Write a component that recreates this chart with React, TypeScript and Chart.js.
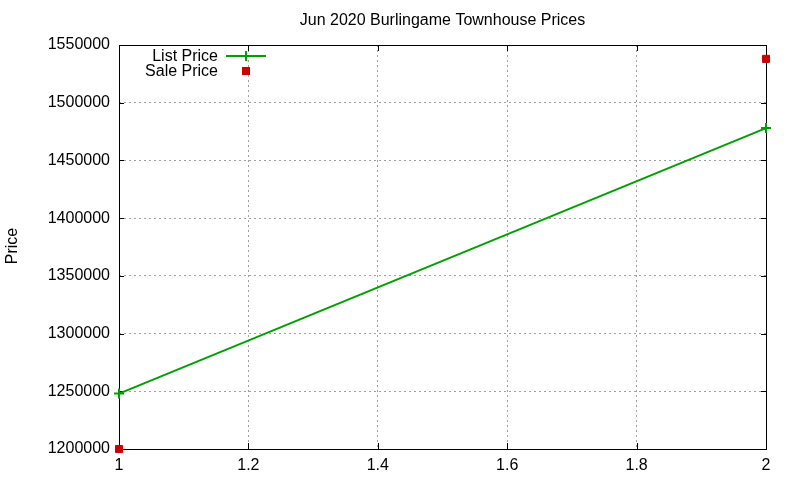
import { useEffect, useRef } from 'react'
import { Chart, registerables, type ChartConfiguration, type Plugin } from 'chart.js'

Chart.register(...registerables)

// readings for the two months on the x axis
const xValues = [1, 2]
const listPrice = [1248000, 1478000]
const salePrice = [1200000, 1538000]

const chartTitle = 'Jun 2020 Burlingame Townhouse Prices'
const yTitle = 'Price'
const seriesNames = ['List Price', 'Sale Price']

const GREEN = '#00a000'
const RED = '#cc0000'
const FONT = '"Liberation Sans", Arial, sans-serif'

// gnuplot look: border, inward mirrored ticks, title, key
const gnuplotDecor: Plugin = {
  id: 'gnuplotDecor',
  beforeDatasetsDraw(chart) {
    const { ctx, chartArea: a } = chart
    const xs = chart.scales.x
    const ys = chart.scales.y
    ctx.save()
    ctx.strokeStyle = '#000'
    ctx.lineWidth = 1
    ctx.beginPath()
    xs.ticks.forEach(t => {
      const px = Math.round(xs.getPixelForValue(t.value)) + 0.5
      ctx.moveTo(px, a.bottom)
      ctx.lineTo(px, a.bottom - 6)
      ctx.moveTo(px, a.top)
      ctx.lineTo(px, a.top + 6)
    })
    ys.ticks.forEach(t => {
      const py = Math.round(ys.getPixelForValue(t.value)) + 0.5
      ctx.moveTo(a.left, py)
      ctx.lineTo(a.left + 5, py)
      ctx.moveTo(a.right, py)
      ctx.lineTo(a.right - 5, py)
    })
    ctx.stroke()
    ctx.strokeRect(Math.round(a.left) + 0.5, Math.round(a.top) + 0.5,
      Math.round(a.right - a.left), Math.round(a.bottom - a.top))
    ctx.restore()
  },
  afterDraw(chart) {
    const { ctx, chartArea: a } = chart
    ctx.save()
    ctx.fillStyle = '#000'
    ctx.font = `16px ${FONT}`
    ctx.textAlign = 'center'
    ctx.textBaseline = 'middle'
    ctx.fillText(chartTitle, (a.left + a.right) / 2, 21)

    ctx.save()
    ctx.translate(13, 246)
    ctx.rotate(-Math.PI / 2)
    ctx.fillText(yTitle, 0, 0)
    ctx.restore()

    // key
    ctx.textAlign = 'right'
    ctx.fillText(seriesNames[0], 218, 57)
    ctx.fillText(seriesNames[1], 218, 72)
    ctx.strokeStyle = GREEN
    ctx.lineWidth = 2
    ctx.beginPath()
    ctx.moveTo(226, 56)
    ctx.lineTo(266, 56)
    ctx.moveTo(246, 51)
    ctx.lineTo(246, 61)
    ctx.stroke()
    ctx.fillStyle = RED
    ctx.fillRect(242, 67, 8, 8)
    ctx.restore()
  },
}

export default function App() {
  const chartRef = useRef<HTMLCanvasElement>(null)
  const chartInstance = useRef<Chart | null>(null)

  useEffect(() => {
    if (!chartRef.current) return
    chartInstance.current?.destroy()
    const ctx = chartRef.current.getContext('2d')
    if (!ctx) return

    Chart.defaults.font.family = FONT
    Chart.defaults.font.size = 16
    Chart.defaults.color = '#000'

    const config: ChartConfiguration<'line'> = {
      type: 'line',
      data: {
        datasets: [
          {
            label: seriesNames[0],
            data: xValues.map((x, i) => ({ x, y: listPrice[i] })),
            borderColor: GREEN,
            backgroundColor: GREEN,
            borderWidth: 2,
            pointStyle: 'cross',
            pointRadius: 5,
            pointBorderWidth: 2,
            clip: false,
          },
          {
            label: seriesNames[1],
            data: xValues.map((x, i) => ({ x, y: salePrice[i] })),
            borderColor: RED,
            backgroundColor: RED,
            showLine: false,
            pointStyle: 'rect',
            pointRadius: 5,
            pointBorderWidth: 1,
            clip: false,
          },
        ],
      },
      options: {
        responsive: false,
        animation: false,
        layout: { padding: { top: 45, right: 34, left: 0, bottom: 0 } },
        scales: {
          x: {
            type: 'linear',
            min: 1,
            max: 2,
            afterFit: (axis) => { axis.height = 31 },
            ticks: {
              stepSize: 0.2,
              padding: 7,
              callback: (value) => String(Math.round(Number(value) * 10) / 10),
            },
            grid: { color: '#a0a0a0', tickLength: 0, drawTicks: false },
            border: { display: false, dash: [2, 3] },
          },
          y: {
            min: 1200000,
            max: 1550000,
            afterFit: (axis) => { axis.width = 119 },
            ticks: {
              stepSize: 50000,
              padding: 9,
              callback: (value) => String(value),
            },
            grid: { color: '#a0a0a0', tickLength: 0, drawTicks: false },
            border: { display: false, dash: [2, 3] },
          },
        },
        plugins: {
          legend: { display: false },
          title: { display: false },
          tooltip: { enabled: false },
        },
      },
      plugins: [gnuplotDecor],
    }

    chartInstance.current = new Chart(ctx, config)
    return () => {
      chartInstance.current?.destroy()
    }
  }, [])

  return (
    <div style={{ position: 'fixed', left: 0, top: 0, width: 800, height: 480, background: '#fff' }}>
      <canvas ref={chartRef} width={800} height={480} />
    </div>
  )
}
